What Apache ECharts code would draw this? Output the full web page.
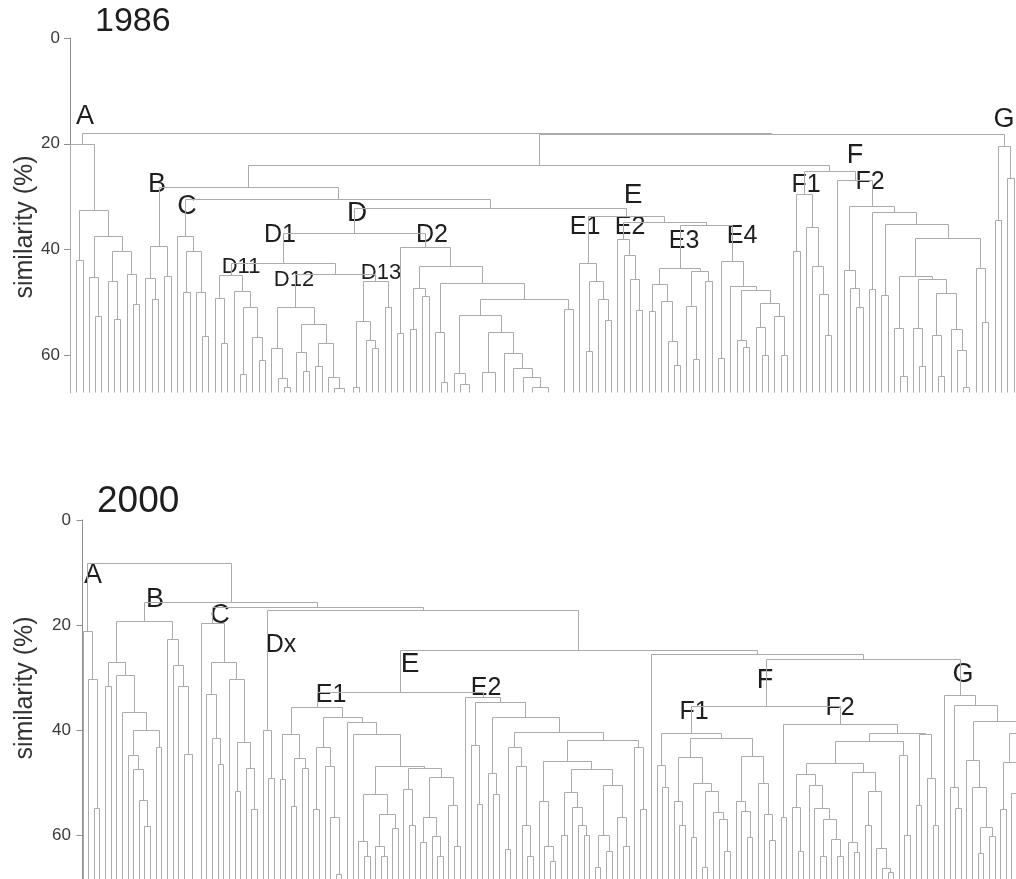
<!DOCTYPE html>
<html><head><meta charset="utf-8">
<script src="https://cdn.jsdelivr.net/npm/echarts@6/dist/echarts.min.js"></script>
<style>html,body{margin:0;padding:0;background:#fff}#c{width:1016px;height:879px}</style>
</head><body><div id="c"></div>
<script>
// Tree notation: [similarity height, child, child, ...]; 0 = leaf.
// Nodes at height 99 lie below the visible range (merged beyond the axis end).
const yTicks = [0, 20, 40, 60];

// ---- 1986 ----
const A86 = [20, 0, [32.5, [42, 0, 0], [37.5, [45.2, 0, [52.5, 0, 0]], [40.3, [45.9, 0, [53.2, 0, 0]], [44.7, 0, [50.3, 0, 0]]]]]];
const B86 = [39.4, [45.3, 0, [49.3, 0, 0]], [45, 0, 0]];
const C86 = [37.5, 0, [40.3, [48.1, 0, 0], [48.1, 0, [56.3, 0, 0]]]];
const D11_86 = [44.8, [49.2, 0, [57.6, 0, 0]], [47.8, 0, [50.9, [63.5, 0, 0], [56.5, 0, [60.9, 0, 0]]]]];
const D12_86 = [50.8, [58.6, 0, [64.3, 0, [66, 0, 0]]], [54.1, [59.4, 0, [63, 0, 0]], [57.6, [62, 0, 0], [64.1, 0, [66.2, 0, [99, 0, 0]]]]]];
const D13_86 = [45.9, [53.5, [66, 0, 0], [57.1, 0, [58.6, 0, 0]]], [50.8, 0, 0]];
const D2big86 = [49.4, [52.4, [63.3, 0, [65.5, 0, [99, 0, 0]]], [55.6, [63.1, [99, 0, 0], [99, 0, 0]], [59.6, 0, [62.4, [99, 0, 0], [64.1, 0, [66, [99, 0, 0], [99, 0, 0, 0]]]]]]], [51.2, [99, 0, 0], 0]];
const D2_86 = [39.6, [55.8, 0, 0], [43.1, [47.3, [55, 0, 0], [48.8, 0, 0]], [46.3, [55.6, 0, [65, 0, 0]], D2big86]]];
const E1_86 = [42.6, 0, [46, [59.2, 0, 0], [49.3, 0, [53.4, 0, 0]]]];
const E2_86 = [38, 0, [41, 0, [45.5, 0, [51.5, 0, 0]]]];
const E3_86 = [43.4, [46.5, [51.6, 0, 0], [49.8, 0, [57.3, 0, [61.9, 0, 0]]]], [44.1, [50.6, 0, [60.7, 0, 0]], [46, 0, 0]]];
const E4_86 = [42.2, [60.5, 0, 0], [46.8, 0, [47.7, [57.1, 0, [58.5, 0, 0]], [50.1, [54.7, 0, [60, 0, 0]], [52.5, 0, [60, 0, 0]]]]]];
const F1_86 = [29.4, [40.3, 0, 0], [35.7, 0, [43.1, 0, [48.4, 0, [56.1, 0, 0]]]]];
const Fbig86 = [44.9, [54.9, 0, [63.8, 0, 0]], [45.6, [54.9, 0, [62, 0, 0]], [48.2, [56.1, 0, [63.8, 0, 0]], [55.1, 0, [59, 0, [66, 0, 0]]]]]];
const F2_86 = [26.9, 0, [31.7, [43.8, 0, [47.2, 0, [50.9, 0, 0]]], [32.8, [47.5, 0, 0], [35.2, [48.6, 0, 0], [37.8, Fbig86, [43.4, 0, [53.6, 0, 0]]]]]]];
const G86 = [20.5, [34.4, 0, 0], [26.4, 0, 0]];
const tree86 = [17.9, A86, [18.1, [24, [28.1, B86, [30.4, C86, [32.1, [36.8, [42.6, D11_86, [44.6, D12_86, D13_86]], D2_86], [33.7, E1_86, [34.8, E2_86, [35.4, E3_86, E4_86]]]]]], [25.2, F1_86, F2_86]], G86]];

// ---- 2000 ----
const A00 = [21.1, 0, [30.2, 0, [54.8, 0, 0]]];
const B00 = [19.2, [27, [31.6, 0, 0], [29.5, 0, [36.5, 0, [40, [44.8, 0, [47.5, 0, [53.3, 0, [58.3, 0, 0]]]], [43.2, 0, 0]]]]], [22.7, 0, [27.7, 0, [31.6, 0, [44.6, 0, [99, 0, 0]]]]]];
const C00 = [19.7, 0, [27, [33.2, 0, [41.6, 0, [46.4, 0, 0]]], [30.3, 0, [42.2, [51.6, 0, 0], [47.3, 0, [55, 0, 0]]]]]];
const Dx00 = [40, 0, [49.2, 0, 0]];
const E1g7 = [52.2, [61.1, 0, [64, 0, 0]], [56, [62, 0, [64, 0, 0]], [58.7, 0, 0]]];
const E1g9 = [47.3, [51.3, 0, [58, 0, 0]], [48.9, [56.6, [61.4, 0, 0], [60.1, 0, [64, 0, 0]]], [54.3, 0, [62, 0, 0]]]];
const E1_00 = [35.6, [40.8, [49.3, 0, 0], [45.3, [54.4, 0, 0], [47.3, 0, 0]]], [37.5, [43.2, [55, 0, 0], [46.9, 0, [56.6, 0, [67.5, 0, 0]]]], [38.5, 0, [40.8, 0, [46.9, E1g7, E1g9]]]]];
const E2g6 = [43.3, [62.7, 0, 0], [46.8, 0, [58, 0, [64, 0, 0]]]];
const E2g17 = [45.9, [53.5, 0, [62.1, 0, [65, 0, 0]]], [47.5, [51.9, [60, 0, 0], [54.7, 0, [58, 0, [60, 0, 0]]]], [50.5, [60, [66, 0, 0], [63, 0, 0]], [56.5, 0, [62, 0, 0]]]]];
const E2_00 = [33.7, 0, [34.6, [42.9, 0, [54.1, 0, 0]], [37.5, [48.1, 0, [52.1, 0, 0]], [40.3, E2g6, [41.9, E2g17, [43.2, 0, [55, 0, 0]]]]]]];
const F1g11 = [45.2, [53.5, 0, [58, 0, 0]], [50, [60.4, 0, 0], [51.6, [66, 0, 0], [55.7, 0, [57, 0, [63, 0, 0]]]]]];
const F1g8 = [45, [53.6, 0, [55.5, 0, [60.4, 0, 0]]], [50, 0, [56, 0, [61, 0, 0]]]];
const F1_00 = [40.5, [46.6, 0, [50.8, 0, 0]], [41.5, F1g11, F1g8]];
const F2g10 = [48.3, [54.7, 0, [63, 0, 0]], [50.4, 0, [54.9, 0, [57, [64, 0, 0], [60.8, 0, [64, 0, 0]]]]]];
const F2g9 = [48, [61.4, 0, [63.2, 0, 0]], [51.6, [58, 0, 0], [62.5, 0, [66.3, 0, [67, 0, 0]]]]];
const F2_00 = [38.8, [56.5, 0, 0], [40.5, [42, [46.2, F2g10, F2g9], [44.7, 0, [60, 0, 0]]], [40.8, [54.3, 0, 0], [49.1, 0, [58, 0, 0]]]]];
const G00 = [33.3, 0, [35.2, [50.8, 0, [54.9, 0, 0]], [38.3, [45.7, 0, [50.8, 0, [58.4, [63.5, 0, 0], [60.2, 0, 0]]]], [40.5, [46, [55, 0, 0], [52, 0, [60, 0, 0]]], [44, 0, [50, 0, 0]]]]]];
const tree00 = [8.25, A00, [15.7, B00, [16.6, C00, [17.1, Dx00, [24.8, [32.8, E1_00, E2_00], [25.5, 0, [26.5, [35.5, F1_00, F2_00], G00]]]]]]];

const labels86 = [
  ['A', 85, 117, 27], ['B', 157, 185, 27], ['C', 187, 207, 27], ['D', 357, 213, 28],
  ['D1', 280, 235, 25], ['D2', 432, 235, 25], ['D11', 241, 267, 22], ['D12', 294, 280, 22], ['D13', 381, 273, 22],
  ['E', 633, 195, 28], ['E1', 585, 227, 25], ['E2', 630, 227, 25], ['E3', 684, 241, 25], ['E4', 742, 236, 25],
  ['F', 855, 156, 27], ['F1', 806, 185, 25], ['F2', 870, 182, 25], ['G', 1004, 120, 27]
];
const labels00 = [
  ['A', 93, 576, 27], ['B', 155, 600, 27], ['C', 220, 616, 27], ['Dx', 281, 645, 25],
  ['E', 410, 664, 28], ['E1', 331, 695, 25], ['E2', 486, 688, 25],
  ['F', 765, 681, 27], ['F1', 694, 712, 25], ['F2', 840, 708, 25], ['G', 963, 675, 27]
];

const FONT = '"Liberation Sans", Arial, Helvetica, sans-serif';
const LINE = '#ababab';

function layout(tree, yMax) {
  const segs = [];
  let idx = 0;
  function walk(n) {
    if (n === 0) return { x: idx++, h: yMax };
    const kids = n.slice(1).map(walk);
    const x = (kids[0].x + kids[kids.length - 1].x) / 2;
    const h = n[0];
    if (h >= yMax) return { x: x, h: yMax };
    segs.push({ x: x, h: h, kids: kids.map(k => [k.x, k.h]) });
    return { x: x, h: h };
  }
  walk(tree);
  return segs;
}

const Y1MAX = 67, Y2MAX = 359 / 5.25;
const segs86 = layout(tree86, Y1MAX);
const segs00 = layout(tree00, Y2MAX);

function crisp(p) { return [Math.round(p[0]) + 0.5, Math.round(p[1]) + 0.5]; }

function dendro(segs, gi) {
  return {
    type: 'custom', xAxisIndex: gi, yAxisIndex: gi, silent: true, animation: false,
    data: segs.map(s => [s.x, s.h]),
    renderItem: function (params, api) {
      const s = segs[params.dataIndex];
      const st = { stroke: LINE, lineWidth: 1, fill: null };
      const first = s.kids[0], last = s.kids[s.kids.length - 1];
      const a = crisp(api.coord([first[0], s.h])), b = crisp(api.coord([last[0], s.h]));
      const children = [{ type: 'line', shape: { x1: a[0], y1: a[1], x2: b[0], y2: b[1] }, style: st }];
      s.kids.forEach(k => {
        const p = crisp(api.coord([k[0], s.h])), q = crisp(api.coord([k[0], k[1]]));
        children.push({ type: 'line', shape: { x1: p[0], y1: p[1], x2: q[0], y2: q[1] }, style: st });
      });
      return { type: 'group', children: children };
    }
  };
}

function yAx(gi, max) {
  return {
    type: 'value', gridIndex: gi, inverse: true, min: 0, max: max,
    axisLine: { show: true, lineStyle: { color: '#8f8f8f', width: 1 } },
    axisTick: { show: true, customValues: yTicks, length: 6, lineStyle: { color: '#8f8f8f' } },
    axisLabel: { customValues: yTicks, fontSize: 17, color: '#3a3a3a', margin: 8, fontFamily: FONT },
    splitLine: { show: false }
  };
}

function txt(t, x, y, size, extra) {
  return Object.assign({
    type: 'text', x: x, y: y, silent: true,
    style: { text: t, font: size + 'px ' + FONT, fill: '#1e1e1e',
      textAlign: 'center', textVerticalAlign: 'middle', align: 'center', verticalAlign: 'middle' }
  }, extra || {});
}

const graphics = [];
graphics.push(txt('1986', 95, 22, 34));
graphics[0].style.textAlign = 'left'; graphics[0].style.align = 'left';
graphics.push(txt('2000', 97, 502, 37));
graphics[1].style.textAlign = 'left'; graphics[1].style.align = 'left';
labels86.concat(labels00).forEach(l => graphics.push(txt(l[0], l[1], l[2], l[3])));
graphics.push(txt('similarity (%)', 25, 227, 25, { rotation: Math.PI / 2 }));
graphics.push(txt('similarity (%)', 25, 688, 25, { rotation: Math.PI / 2 }));
graphics.forEach(g => { if (g.style.text.indexOf('similarity') === 0) g.style.fill = '#333'; });

const chart = echarts.init(document.getElementById('c'), null, { renderer: 'canvas' });
chart.setOption({
  backgroundColor: '#ffffff',
  animation: false,
  grid: [
    { left: 68, right: 0, top: 38, height: Y1MAX * 5.29 },
    { left: 79, right: 0, top: 520, height: 359 }
  ],
  xAxis: [
    { type: 'value', gridIndex: 0, min: -2 / 6.29, max: -2 / 6.29 + 948 / 6.29, show: false },
    { type: 'value', gridIndex: 1, min: -3.5 / 5.63, max: -3.5 / 5.63 + 937 / 5.63, show: false }
  ],
  yAxis: [yAx(0, Y1MAX), yAx(1, Y2MAX)],
  series: [dendro(segs86, 0), dendro(segs00, 1)],
  graphic: { elements: graphics }
});
</script>
</body></html>
